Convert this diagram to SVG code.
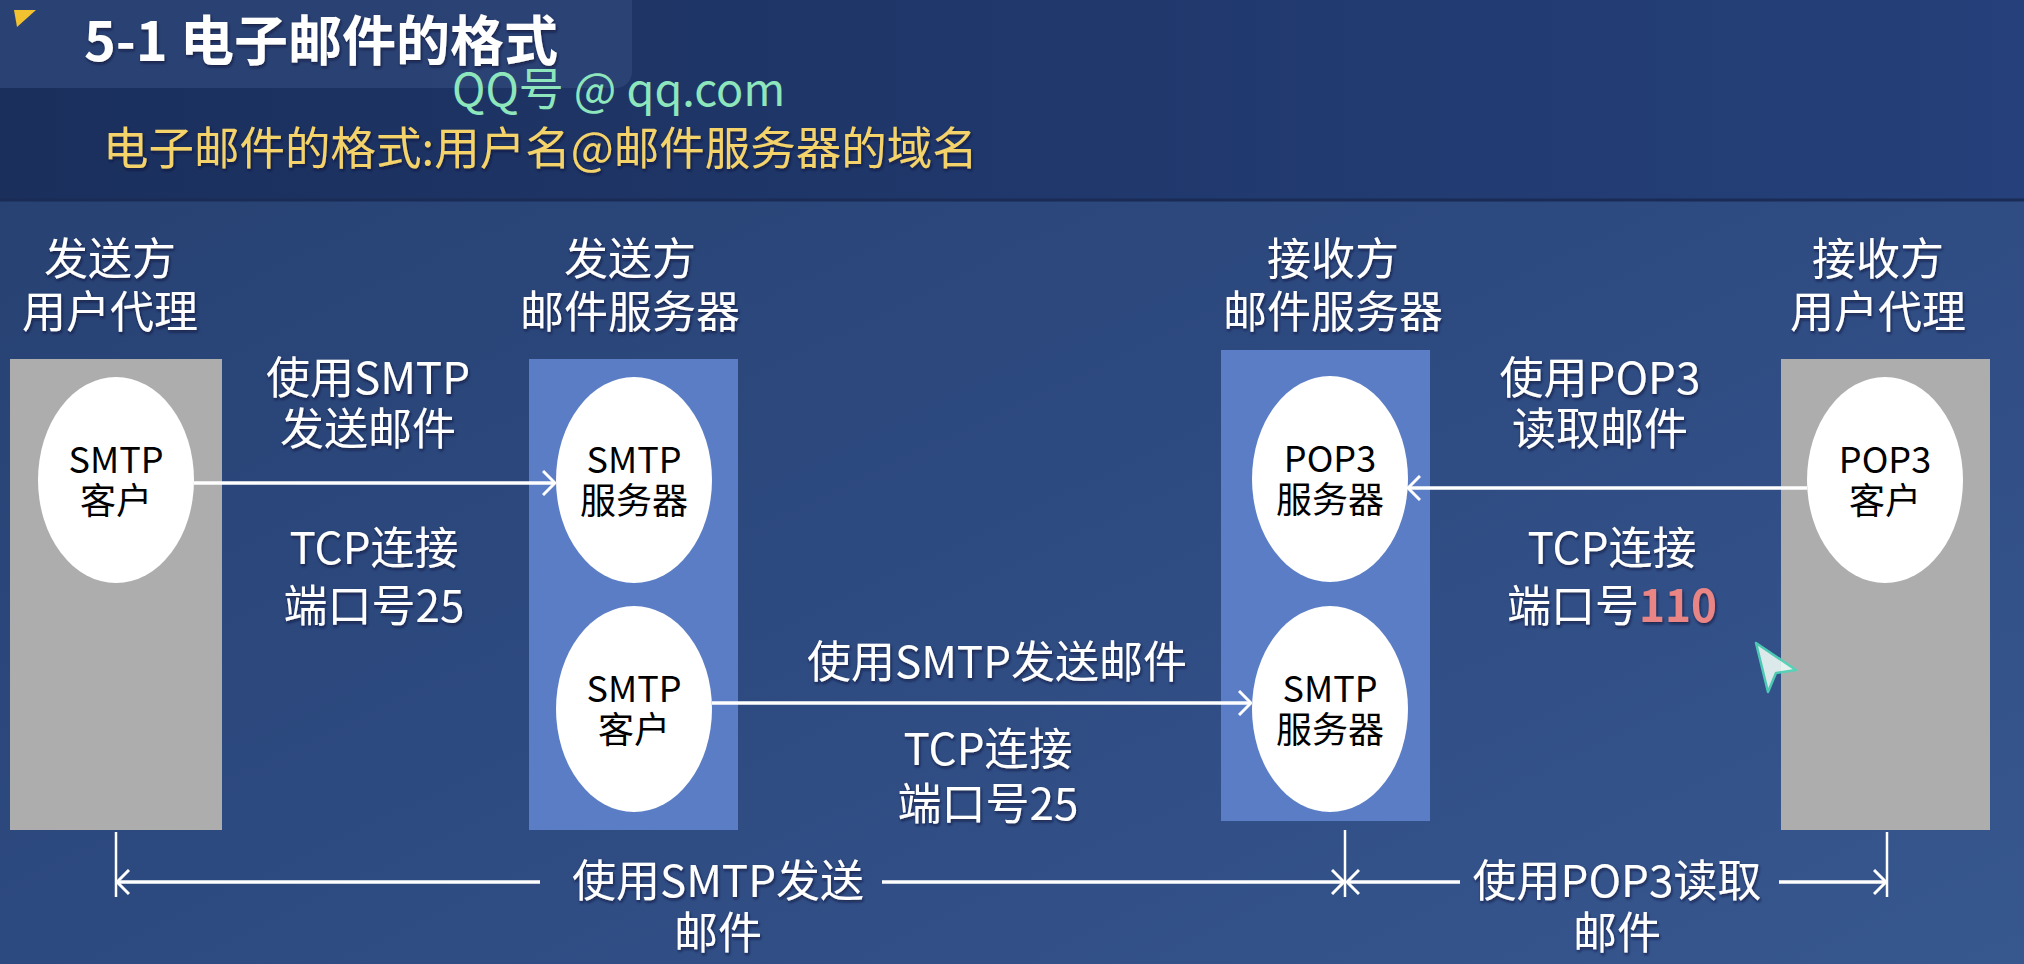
<svg xmlns="http://www.w3.org/2000/svg" width="2024" height="964" viewBox="0 0 2024 964">
  <defs>
    <linearGradient id="bgMain" x1="0" y1="0" x2="1" y2="1">
      <stop offset="0" stop-color="#263f6f"/>
      <stop offset="0.5" stop-color="#2d4a80"/>
      <stop offset="1" stop-color="#37578f"/>
    </linearGradient>
    <linearGradient id="bgTop" x1="0" y1="0" x2="1" y2="0">
      <stop offset="0" stop-color="#1a2f5c"/>
      <stop offset="1" stop-color="#25407a"/>
    </linearGradient>
    <marker id="chev" viewBox="0 0 14 26" refX="13" refY="13" markerWidth="14" markerHeight="26" markerUnits="userSpaceOnUse" orient="auto-start-reverse">
      <path d="M1,1 L13,13 L1,25" fill="none" stroke="#ffffff" stroke-width="3"/>
    </marker>
    <filter id="shadow" x="-5%" y="-20%" width="110%" height="140%">
      <feDropShadow dx="1" dy="2" stdDeviation="1.5" flood-color="#0a1430" flood-opacity="0.7"/>
    </filter>
  </defs>
  <style>
    text { font-family: "Noto Sans CJK SC", "Noto Sans", sans-serif; }
    .hdr { fill: #ffffff; font-size: 44px; text-anchor: middle; }
    .lbl { fill: #ffffff; font-size: 44px; text-anchor: middle; }
    .node-txt { fill: #000000; font-size: 36px; text-anchor: middle; }
    .ua { fill: #adadad; }
    .srv { fill: #5a7dc6; }
    .oval { fill: #ffffff; }
    .conn { stroke: #ffffff; stroke-width: 3.5; fill: none; }
    .tick { stroke: #ffffff; stroke-width: 2.5; fill: none; }
  </style>

  <!-- background -->
  <rect x="0" y="0" width="2024" height="964" fill="url(#bgMain)"/>
  <rect x="0" y="0" width="2024" height="200" fill="url(#bgTop)"/>
  <line x1="0" y1="200" x2="2024" y2="200" stroke="#1a2c55" stroke-width="3"/>

  <!-- heading -->
  <g id="title">
    <rect x="-20" y="-20" width="652" height="108" rx="16" fill="#2d4577" opacity="0.85"/>
    <polygon points="14,10 36,10 17,27" fill="#f2c230"/>
    <text x="84" y="61" font-size="54" font-weight="700" fill="#ffffff" filter="url(#shadow)">5-1 电子邮件的格式</text>
  </g>
  <text x="452" y="106" font-size="45" fill="#8ee6bd" font-family="Noto Sans, sans-serif">QQ号 @ qq.com</text>
  <text x="103" y="165" font-size="45.5" fill="#f4d36b" filter="url(#shadow)">电子邮件的格式:用户名@邮件服务器的域名</text>

  <!-- column headings -->
  <g filter="url(#shadow)">
    <text class="hdr" x="110" y="275">发送方</text>
    <text class="hdr" x="110" y="328">用户代理</text>
    <text class="hdr" x="630" y="275">发送方</text>
    <text class="hdr" x="630" y="328">邮件服务器</text>
    <text class="hdr" x="1333" y="275">接收方</text>
    <text class="hdr" x="1333" y="328">邮件服务器</text>
    <text class="hdr" x="1878" y="275">接收方</text>
    <text class="hdr" x="1878" y="328">用户代理</text>
  </g>

  <!-- sender user agent -->
  <g id="sender-ua">
    <rect class="ua" x="10" y="359" width="212" height="471"/>
    <ellipse class="oval" cx="116" cy="480" rx="78" ry="103"/>
    <text class="node-txt" x="116" y="473">SMTP</text>
    <text class="node-txt" x="116" y="514">客户</text>
  </g>

  <!-- sender mail server -->
  <g id="sender-server">
    <rect class="srv" x="529" y="359" width="209" height="471"/>
    <ellipse class="oval" cx="634" cy="480" rx="78" ry="103"/>
    <text class="node-txt" x="634" y="473">SMTP</text>
    <text class="node-txt" x="634" y="514">服务器</text>
    <ellipse class="oval" cx="634" cy="709" rx="78" ry="103"/>
    <text class="node-txt" x="634" y="702">SMTP</text>
    <text class="node-txt" x="634" y="743">客户</text>
  </g>

  <!-- receiver mail server -->
  <g id="receiver-server">
    <rect class="srv" x="1221" y="350" width="209" height="471"/>
    <ellipse class="oval" cx="1330" cy="479" rx="78" ry="103"/>
    <text class="node-txt" x="1330" y="472">POP3</text>
    <text class="node-txt" x="1330" y="513">服务器</text>
    <ellipse class="oval" cx="1330" cy="709" rx="78" ry="103"/>
    <text class="node-txt" x="1330" y="702">SMTP</text>
    <text class="node-txt" x="1330" y="743">服务器</text>
  </g>

  <!-- receiver user agent -->
  <g id="receiver-ua">
    <rect class="ua" x="1781" y="359" width="209" height="471"/>
    <ellipse class="oval" cx="1885" cy="480" rx="78" ry="103"/>
    <text class="node-txt" x="1885" y="473">POP3</text>
    <text class="node-txt" x="1885" y="514">客户</text>
  </g>

  <!-- connectors -->
  <g id="connectors">
    <line class="conn" x1="194" y1="483" x2="555" y2="483" marker-end="url(#chev)"/>
    <line class="conn" x1="712" y1="703" x2="1251" y2="703" marker-end="url(#chev)"/>
    <line class="conn" x1="1807" y1="488" x2="1408" y2="488" marker-end="url(#chev)"/>

    <line class="tick" x1="116" y1="832" x2="116" y2="897"/>
    <line class="tick" x1="1345" y1="830" x2="1345" y2="897"/>
    <line class="tick" x1="1887" y1="832" x2="1887" y2="897"/>

    <line class="conn" x1="540" y1="882" x2="117" y2="882" marker-end="url(#chev)"/>
    <line class="conn" x1="882" y1="882" x2="1344" y2="882" marker-end="url(#chev)"/>
    <line class="conn" x1="1460" y1="882" x2="1347" y2="882" marker-end="url(#chev)"/>
    <line class="conn" x1="1779" y1="882" x2="1886" y2="882" marker-end="url(#chev)"/>
  </g>

  <!-- connector labels -->
  <g filter="url(#shadow)">
    <text class="lbl" x="368" y="394">使用SMTP</text>
    <text class="lbl" x="368" y="445">发送邮件</text>
    <text class="lbl" x="374" y="564" font-size="48">TCP连接</text>
    <text class="lbl" x="374" y="622" font-size="48">端口号25</text>

    <text class="lbl" x="997" y="678">使用SMTP发送邮件</text>
    <text class="lbl" x="988" y="765">TCP连接</text>
    <text class="lbl" x="988" y="820">端口号25</text>

    <text class="lbl" x="1600" y="394">使用POP3</text>
    <text class="lbl" x="1600" y="445">读取邮件</text>
    <text class="lbl" x="1612" y="564">TCP连接</text>
    <text class="lbl" x="1612" y="622">端口号<tspan fill="#e98585" font-weight="700">110</tspan></text>

    <text class="lbl" x="718" y="897">使用SMTP发送</text>
    <text class="lbl" x="718" y="949">邮件</text>
    <text class="lbl" x="1617" y="897">使用POP3读取</text>
    <text class="lbl" x="1617" y="949">邮件</text>
  </g>

  <!-- pointer -->
  <polygon points="1756,643 1796,670 1776,673 1768,692" fill="#eefaf6" stroke="#4fd6b8" stroke-width="2.5" stroke-linejoin="round" opacity="0.9"/>
</svg>
